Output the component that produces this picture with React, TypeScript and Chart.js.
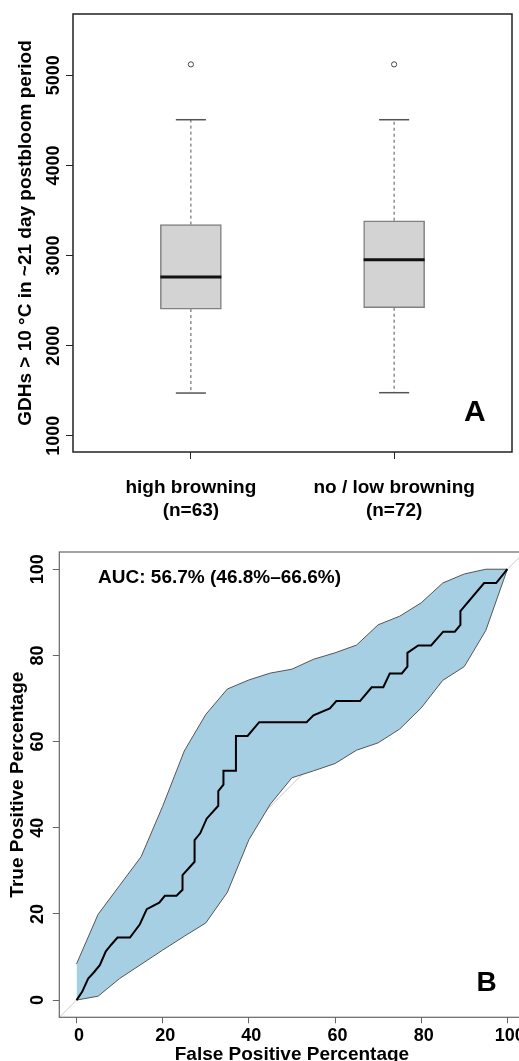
import React, { useEffect, useRef } from 'react';
import { Chart, registerables } from 'chart.js';

Chart.register(...registerables);

// ---------- Panel A: box plot data ----------
const GROUPS = ['high browning', 'no / low browning'];
const GROUP_N = ['(n=63)', '(n=72)'];
const GROUP_POS = [1, 2];
const LOWER_WHISKER = [1474, 1478];
const Q1 = [2406, 2421];
const MEDIAN = [2762, 2953];
const Q3 = [3343, 3386];
const UPPER_WHISKER = [4507, 4507];
const OUTLIERS = [5121, 5121];
const Y_TICKS_A = [1000, 2000, 3000, 4000, 5000];
const Y_TITLE_A = 'GDHs > 10 °C in ~21 day postbloom period';
const PANEL_A = 'A';

// ---------- Panel B: ROC data ----------
const ROC_FPR = [0, 1.3, 2.7, 4.0, 5.4, 6.8, 8.1, 9.5, 12.4, 14.7, 16.3, 19.2, 20.5, 23.2, 24.6, 24.6, 27.4, 27.4, 28.7, 30.2, 32.9, 32.9, 34.1, 34.1, 37.0, 37.0, 39.7, 42.4, 53.4, 55.0, 58.8, 60.3, 65.8, 68.5, 71.2, 72.7, 75.5, 76.8, 76.8, 79.3, 82.3, 85.1, 87.8, 89.1, 89.1, 94.6, 97.4, 100];
const ROC_TPR = [0, 1.9, 5.0, 6.4, 8.1, 11.3, 12.9, 14.5, 14.5, 17.6, 21.1, 22.6, 24.2, 24.2, 25.6, 29.0, 32.1, 37.1, 38.7, 42.1, 45.1, 48.5, 50.0, 53.2, 53.2, 61.3, 61.3, 64.5, 64.5, 66.1, 67.7, 69.4, 69.4, 72.6, 72.6, 75.8, 75.8, 77.4, 80.6, 82.3, 82.3, 85.5, 85.5, 87.1, 90.3, 96.8, 96.8, 100];
const CI_FPR = [0, 5, 10, 15, 20, 25, 30, 35, 40, 45, 50, 55, 60, 65, 70, 75, 80, 85, 90, 95, 100];
const CI_UPPER = [8.4, 19.9, 26.6, 33.3, 45.0, 57.8, 66.3, 72.2, 74.3, 75.9, 76.8, 79.1, 80.6, 82.4, 87.1, 89.1, 92.2, 96.8, 98.9, 100, 100];
const CI_LOWER = [0, 0.9, 5.0, 8.3, 11.6, 14.8, 17.9, 25.0, 37.2, 45.5, 51.6, 53.2, 54.9, 58.0, 59.7, 62.9, 67.8, 74.2, 77.4, 85.8, 100];
const DIAGONAL = [-4, 104];
const AXIS_TICKS_B = [0, 20, 40, 60, 80, 100];
const X_TITLE_B = 'False Positive Percentage';
const Y_TITLE_B = 'True Positive Percentage';
const AUC_LABEL = 'AUC: 56.7% (46.8%–66.6%)';
const PANEL_B = 'B';

const FONT = '"Liberation Sans", Arial, Helvetica, sans-serif';
const BOX_HALF = 0.15;
const CAP_HALF = 0.074;

function rotatedText(ctx: CanvasRenderingContext2D, text: string, x: number, y: number) {
  ctx.save();
  ctx.translate(x, y);
  ctx.rotate(-Math.PI / 2);
  ctx.textAlign = 'center';
  ctx.textBaseline = 'alphabetic';
  ctx.fillText(text, 0, 0);
  ctx.restore();
}

const panelAPlugin = {
  id: 'panelAText',
  afterDraw(chart: any) {
    const { ctx, chartArea: a, scales } = chart;
    const x = scales.x;
    const y = scales.y;
    ctx.save();
    ctx.strokeStyle = '#222';
    ctx.lineWidth = 1.5;
    ctx.strokeRect(a.left, a.top, a.right - a.left, a.bottom - a.top);
    ctx.fillStyle = '#000';
    ctx.font = `bold 18px ${FONT}`;
    Y_TICKS_A.forEach((v) => rotatedText(ctx, String(v), a.left - 14.5, y.getPixelForValue(v)));
    ctx.font = `bold 19px ${FONT}`;
    rotatedText(ctx, Y_TITLE_A, a.left - 42, (a.top + a.bottom) / 2);
    ctx.textAlign = 'center';
    ctx.textBaseline = 'alphabetic';
    GROUP_POS.forEach((p, i) => {
      const px = x.getPixelForValue(p);
      ctx.fillText(GROUPS[i], px, a.bottom + 41);
      ctx.fillText(GROUP_N[i], px, a.bottom + 63.5);
    });
    ctx.font = `bold 30px ${FONT}`;
    ctx.textAlign = 'left';
    ctx.fillText(PANEL_A, a.right - 48, a.bottom - 31.5);
    ctx.restore();
  },
};

const panelBPlugin = {
  id: 'panelBText',
  afterDraw(chart: any) {
    const { ctx, chartArea: a, scales } = chart;
    const x = scales.x;
    const y = scales.y;
    ctx.save();
    ctx.strokeStyle = '#666';
    ctx.lineWidth = 1.2;
    ctx.strokeRect(a.left, a.top, a.right - a.left, a.bottom - a.top);
    ctx.fillStyle = '#000';
    ctx.font = `bold 18px ${FONT}`;
    AXIS_TICKS_B.forEach((v) => rotatedText(ctx, String(v), a.left - 16, y.getPixelForValue(v)));
    ctx.textAlign = 'center';
    ctx.textBaseline = 'alphabetic';
    AXIS_TICKS_B.forEach((v) => ctx.fillText(String(v), x.getPixelForValue(v) + 2.5, a.bottom + 23.4));
    ctx.font = `bold 19px ${FONT}`;
    ctx.fillText(X_TITLE_B, (a.left + a.right) / 2, a.bottom + 42.7);
    rotatedText(ctx, Y_TITLE_B, a.left - 36.3, (a.top + a.bottom) / 2);
    ctx.textAlign = 'left';
    ctx.fillText(AUC_LABEL, x.getPixelForValue(5), y.getPixelForValue(96.8));
    ctx.font = `bold 28px ${FONT}`;
    ctx.fillText(PANEL_B, a.right - 48, a.bottom - 26.8);
    ctx.restore();
  },
};

function makeConfigA(): any {
  const seg = (x1: number, y1: number, x2: number, y2: number) => [
    { x: x1, y: y1 },
    { x: x2, y: y2 },
  ];
  const lineBase = { showLine: true, pointRadius: 0, pointHoverRadius: 0, fill: false };
  const datasets: any[] = [];
  GROUP_POS.forEach((p, i) => {
    datasets.push({ ...lineBase, data: seg(p - BOX_HALF, MEDIAN[i], p + BOX_HALF, MEDIAN[i]), borderColor: '#111', borderWidth: 3 });
  });
  datasets.push({
    type: 'bar',
    data: GROUP_POS.map((p, i) => ({ x: p, y: [Q1[i], Q3[i]] })),
    backgroundColor: '#d3d3d3',
    borderColor: '#808080',
    borderWidth: 1.5,
    borderSkipped: false,
    barThickness: 61,
  });
  GROUP_POS.forEach((p, i) => {
    datasets.push({ ...lineBase, data: seg(p, Q3[i], p, UPPER_WHISKER[i]), borderColor: '#555', borderWidth: 1, borderDash: [3, 3] });
    datasets.push({ ...lineBase, data: seg(p, Q1[i], p, LOWER_WHISKER[i]), borderColor: '#555', borderWidth: 1, borderDash: [3, 3] });
    datasets.push({ ...lineBase, data: seg(p - CAP_HALF, UPPER_WHISKER[i], p + CAP_HALF, UPPER_WHISKER[i]), borderColor: '#555', borderWidth: 1.5 });
    datasets.push({ ...lineBase, data: seg(p - CAP_HALF, LOWER_WHISKER[i], p + CAP_HALF, LOWER_WHISKER[i]), borderColor: '#555', borderWidth: 1.5 });
  });
  datasets.push({
    data: GROUP_POS.map((p, i) => ({ x: p, y: OUTLIERS[i] })),
    showLine: false,
    pointRadius: 2.6,
    pointStyle: 'circle',
    pointBorderColor: '#444',
    pointBackgroundColor: 'rgba(0,0,0,0)',
    pointBorderWidth: 1,
  });
  return {
    type: 'scatter',
    data: { datasets },
    options: {
      animation: false,
      responsive: false,
      events: [],
      layout: { padding: { top: 14, right: 7, left: 0, bottom: 0 } },
      plugins: { legend: { display: false }, tooltip: { enabled: false } },
      scales: {
        x: {
          type: 'linear',
          min: 0.42,
          max: 2.58,
          offset: false,
          afterBuildTicks: (s: any) => { s.ticks = GROUP_POS.map((v) => ({ value: v })); },
          afterFit: (s: any) => { s.height = 78; },
          ticks: { display: false },
          border: { display: false },
          grid: { drawOnChartArea: false, drawTicks: true, tickLength: 7, color: '#222', lineWidth: 1, offset: false },
        },
        y: {
          type: 'linear',
          min: 820,
          max: 5680,
          afterBuildTicks: (s: any) => { s.ticks = Y_TICKS_A.map((v) => ({ value: v })); },
          afterFit: (s: any) => { s.width = 73; },
          ticks: { display: false },
          border: { display: false },
          grid: { drawOnChartArea: false, drawTicks: true, tickLength: 7, color: '#222', lineWidth: 1 },
        },
      },
    },
    plugins: [panelAPlugin],
  };
}

function makeConfigB(): any {
  const zip = (xs: number[], ys: number[]) => xs.map((v, i) => ({ x: v, y: ys[i] }));
  const lineBase = { showLine: true, pointRadius: 0, pointHoverRadius: 0 };
  return {
    type: 'scatter',
    data: {
      datasets: [
        { ...lineBase, data: zip(ROC_FPR, ROC_TPR), borderColor: '#000', borderWidth: 2, fill: false },
        { ...lineBase, data: zip(CI_FPR, CI_UPPER), borderColor: '#555', borderWidth: 1, fill: false },
        { ...lineBase, data: zip(CI_FPR, CI_LOWER), borderColor: '#555', borderWidth: 1, fill: '-1', backgroundColor: '#a6cfe3' },
        { ...lineBase, data: zip(DIAGONAL, DIAGONAL), borderColor: '#c8c8c8', borderWidth: 1, fill: false },
      ],
    },
    options: {
      animation: false,
      responsive: false,
      events: [],
      layout: { padding: { top: 22, right: 5.4, left: 0, bottom: 0 } },
      plugins: { legend: { display: false }, tooltip: { enabled: false } },
      scales: {
        x: {
          type: 'linear',
          min: -4,
          max: 104,
          afterBuildTicks: (s: any) => { s.ticks = AXIS_TICKS_B.map((v) => ({ value: v })); },
          afterFit: (s: any) => { s.height = 43.7; },
          ticks: { display: false },
          border: { display: false },
          grid: { drawOnChartArea: false, drawTicks: true, tickLength: 6, color: '#666', lineWidth: 1 },
        },
        y: {
          type: 'linear',
          min: -4,
          max: 104,
          afterBuildTicks: (s: any) => { s.ticks = AXIS_TICKS_B.map((v) => ({ value: v })); },
          afterFit: (s: any) => { s.width = 59.3; },
          ticks: { display: false },
          border: { display: false },
          grid: { drawOnChartArea: false, drawTicks: true, tickLength: 6.5, color: '#666', lineWidth: 1 },
        },
      },
    },
    plugins: [panelBPlugin],
  };
}

function ChartCanvas({ makeConfig, width, height }: { makeConfig: () => any; width: number; height: number }) {
  const ref = useRef<HTMLCanvasElement>(null);
  useEffect(() => {
    if (!ref.current) return;
    const chart = new Chart(ref.current, makeConfig());
    return () => chart.destroy();
  }, [makeConfig]);
  return <canvas ref={ref} width={width} height={height} style={{ display: 'block', width, height }} />;
}

export default function App() {
  useEffect(() => {
    document.body.style.margin = '0';
    document.body.style.overflow = 'hidden';
  }, []);
  return (
    <div style={{ width: 519, height: 1061, overflow: 'hidden', background: '#fff' }}>
      <style>{'body{margin:0;overflow:hidden;background:#fff}'}</style>
      <ChartCanvas makeConfig={makeConfigA} width={519} height={530} />
      <ChartCanvas makeConfig={makeConfigB} width={530} height={531} />
    </div>
  );
}
